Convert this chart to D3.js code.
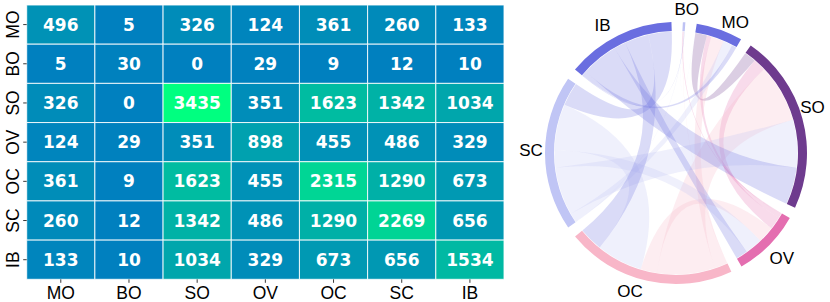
<!DOCTYPE html>
<html><head><meta charset="utf-8">
<script src="https://cdn.jsdelivr.net/npm/d3@7"></script>
<style>body{margin:0;background:#fff} svg{display:block}</style>
</head><body>
<script>
// ---- data ----
const labels = ["MO","BO","SO","OV","OC","SC","IB"];
const rowMO = [496,5,326,124,361,260,133];
const rowBO = [5,30,0,29,9,12,10];
const rowSO = [326,0,3435,351,1623,1342,1034];
const rowOV = [124,29,351,898,455,486,329];
const rowOC = [361,9,1623,455,2315,1290,673];
const rowSC = [260,12,1342,486,1290,2269,656];
const rowIB = [133,10,1034,329,673,656,1534];
const matrix = [rowMO,rowBO,rowSO,rowOV,rowOC,rowSC,rowIB];
const chordOrder = ["BO","MO","SO","OV","OC","SC","IB"];

// ---- style / layout ----
const groupColors = ["#6a6ee0","#bec2f4","#6e3b8e","#e46eb0","#f8b6c8","#c0c5f5","#6a6ee0"]; // by labels
// small angular nudges (degrees) and radii for the chord name labels, in chordOrder
const labelShift = [0.7, 5, -3.2, 0, 5.7, 1.2, -3.8];
const labelRadius = [144.4, 143.2, 143.9, 149.3, 145.5, 145, 146.9];

const W = 830, H = 302;
const svg = d3.select("body").append("svg").attr("width", W).attr("height", H);

// ---- heatmap ----
const hm = {left: 26.7, right: 504, top: 5, bottom: 279.3};
const x = d3.scaleBand().domain(labels).range([hm.left, hm.right]);
const y = d3.scaleBand().domain(labels).range([hm.top, hm.bottom]);
const vmax = d3.max(matrix.flat());
const color = d3.scaleLinear().domain([0, vmax]).range(["rgb(0,128,191)", "rgb(0,255,128)"]);

const cells = [];
labels.forEach((r, i) => labels.forEach((c, j) => cells.push({r, c, v: matrix[i][j]})));

const g = svg.append("g");
g.selectAll("rect").data(cells).join("rect")
  .attr("x", d => x(d.c)).attr("y", d => y(d.r))
  .attr("width", x.bandwidth()).attr("height", y.bandwidth())
  .attr("fill", d => color(d.v))
  .attr("stroke", "#fff").attr("stroke-width", 1).attr("stroke-opacity", 0.85);
g.selectAll("text.ann").data(cells).join("text").attr("class", "ann")
  .attr("x", d => x(d.c) + x.bandwidth() / 2)
  .attr("y", d => y(d.r) + y.bandwidth() / 2 + 6)
  .attr("text-anchor", "middle")
  .attr("font-family", "DejaVu Sans").attr("font-weight", "bold").attr("font-size", 17)
  .attr("fill", "#fff").text(d => d.v);

const fontLab = "Liberation Sans, Arial, sans-serif";
const xa = svg.append("g").attr("transform", `translate(0,${hm.bottom})`)
  .call(d3.axisBottom(x).tickSize(3.5).tickSizeOuter(0));
xa.select(".domain").remove();
xa.selectAll("line").attr("stroke", "#222").attr("stroke-width", 0.9);
xa.selectAll("text").attr("y", 19.8).attr("dy", 0).attr("fill", "#000")
  .attr("font-family", fontLab).attr("font-size", 17.5);

const ya = svg.append("g").attr("transform", `translate(${hm.left},0)`)
  .call(d3.axisLeft(y).tickSize(3.5).tickSizeOuter(0));
ya.select(".domain").remove();
ya.selectAll("line").attr("stroke", "#222").attr("stroke-width", 0.9);
ya.selectAll("text").attr("x", null).attr("dy", 0)
  .attr("transform", "translate(-8.2,0) rotate(-90)")
  .attr("text-anchor", "middle").attr("fill", "#000")
  .attr("font-family", fontLab).attr("font-size", 17.5);

// ---- chord diagram ----
const cx = 676, cy = 153, rOut = 131, rIn = 122;
const idx = chordOrder.map(k => labels.indexOf(k));
const cm = idx.map(i => idx.map(j => i === j ? 0 : matrix[i][j]));
const chords = d3.chord().padAngle(5 * Math.PI / 180).sortSubgroups(null)(cm);
const rot = 3 * Math.PI / 180;

const cg = svg.append("g").attr("transform", `translate(${cx},${cy})`);
const ribbon = d3.ribbon().radius(rIn - 0.5)
  .startAngle(d => d.startAngle + rot).endAngle(d => d.endAngle + rot);
cg.append("g").selectAll("path").data(chords).join("path")
  .attr("d", ribbon)
  .attr("fill", d => groupColors[Math.max(idx[d.source.index], idx[d.target.index])])
  .attr("fill-opacity", 0.25);

const arc = d3.arc().innerRadius(rIn).outerRadius(rOut)
  .startAngle(d => d.startAngle + rot).endAngle(d => d.endAngle + rot);
cg.append("g").selectAll("path").data(chords.groups).join("path")
  .attr("d", arc).attr("fill", d => groupColors[idx[d.index]]);

const labAng = d => (d.startAngle + d.endAngle) / 2 + rot + labelShift[d.index] * Math.PI / 180;
cg.append("g").selectAll("text").data(chords.groups).join("text")
  .attr("x", d => labelRadius[d.index] * Math.sin(labAng(d)))
  .attr("y", d => -labelRadius[d.index] * Math.cos(labAng(d)))
  .attr("text-anchor", "middle").attr("dominant-baseline", "central")
  .attr("font-family", fontLab).attr("font-size", 17).attr("fill", "#000")
  .text(d => chordOrder[d.index]);
</script>
</body></html>
